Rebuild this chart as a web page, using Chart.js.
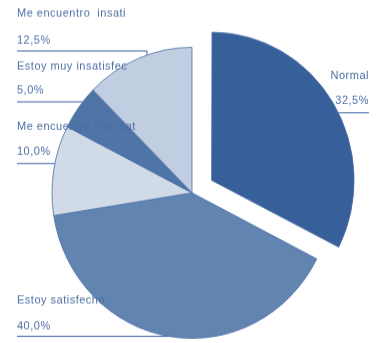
<!DOCTYPE html>
<html>
<head>
<meta charset="utf-8">
<script src="https://cdn.jsdelivr.net/npm/chart.js@4/dist/chart.umd.min.js"></script>
<style>
  html, body { margin: 0; padding: 0; background: #ffffff; }
  #chart { display: block; }
</style>
</head>
<body>
<canvas id="chart" width="385" height="330" style="width:385px;height:343px"></canvas>
<script>
// Survey answers (percent of respondents)
const categories = ['Normal', 'Estoy satisfecho', 'Me encuentro muy sat', 'Estoy muy insatisfec', 'Me encuentro  insati'];
const shares = [32.5, 40.0, 10.0, 5.0, 12.5];
const sliceColors = ['#37609a', '#6284b1', '#d1dbe8', '#4f74a6', '#c1cde1'];
// Chart.js moves an arc out by a quarter of its offset value
const sliceOffsets = [92, 0, 0, 0, 0];

const TEXT_COLOR = '#4b6ea4';
const LINE_COLOR = '#3f66a0';

// Where each category's caption sits and how its underline runs to the slice
const captionLayout = [
  { x: 369, align: 'right', nameY: 73, valueY: 97, lineY: 108.5, lineTo: 'edgeRight' },
  { x: 17, align: 'left', nameY: 288.5, valueY: 313.5, lineY: 323.6, lineTo: 'edgeLeft' },
  { x: 17, align: 'left', nameY: 122, valueY: 146, lineY: 157.3, lineTo: 'edgeLeft' },
  { x: 17, align: 'left', nameY: 63.5, valueY: 86.5, lineY: 98, lineTo: 'edgeLeft' },
  { x: 17, align: 'left', nameY: 13, valueY: 38.5, lineY: 49, lineTo: 'drop', dropX: 147 }
];

const fmtPct = v => v.toFixed(1).replace('.', ',') + '%';

const captionPlugin = {
  id: 'sliceCaptions',
  afterDraw(chart) {
    const ctx = chart.ctx;
    const arcs = chart.getDatasetMeta(0).data;
    ctx.save();
    ctx.font = '11px "Liberation Sans", Arial, sans-serif';
    ctx.letterSpacing = '0.5px';
    ctx.fillStyle = TEXT_COLOR;
    ctx.textBaseline = 'middle';
    ctx.strokeStyle = LINE_COLOR;
    ctx.lineWidth = 1;
    captionLayout.forEach((lay, i) => {
      const arc = arcs[i];
      const r = arc.outerRadius;
      // an exploded slice is drawn shifted along its middle angle
      const mid = (arc.startAngle + arc.endAngle) / 2;
      const shift = (arc.options.offset || 0) / 4;
      const cx = arc.x + Math.cos(mid) * shift;
      const cy = arc.y + Math.sin(mid) * shift;
      ctx.textAlign = lay.align;
      ctx.fillText(categories[i], lay.x, lay.nameY);
      ctx.fillText(fmtPct(shares[i]), lay.x, lay.valueY);

      ctx.beginPath();
      if (lay.lineTo === 'drop') {
        const dx = lay.dropX - cx;
        const edgeY = cy - Math.sqrt(Math.max(r * r - dx * dx, 0));
        ctx.moveTo(lay.x, lay.lineY);
        ctx.lineTo(lay.dropX, lay.lineY);
        ctx.lineTo(lay.dropX, edgeY);
      } else {
        const dy = lay.lineY - cy;
        const half = Math.sqrt(Math.max(r * r - dy * dy, 0));
        const edgeX = lay.lineTo === 'edgeLeft' ? cx - half : cx + half;
        ctx.moveTo(lay.x, lay.lineY);
        ctx.lineTo(edgeX, lay.lineY);
      }
      ctx.stroke();
    });
    ctx.restore();
  }
};

new Chart(document.getElementById('chart'), {
  type: 'pie',
  data: {
    labels: categories,
    datasets: [{
      data: shares,
      backgroundColor: sliceColors,
      borderColor: '#4a6ea3',
      borderWidth: 0.8,
      offset: sliceOffsets,
      hoverOffset: 0
    }]
  },
  options: {
    responsive: false,
    maintainAspectRatio: false,
    animation: false,
    radius: 140,
    layout: { padding: { left: 42, right: 43, top: 42, bottom: 1 } },
    plugins: {
      legend: { display: false },
      tooltip: { enabled: false }
    },
    events: []
  },
  plugins: [captionPlugin]
});
</script>
</body>
</html>
